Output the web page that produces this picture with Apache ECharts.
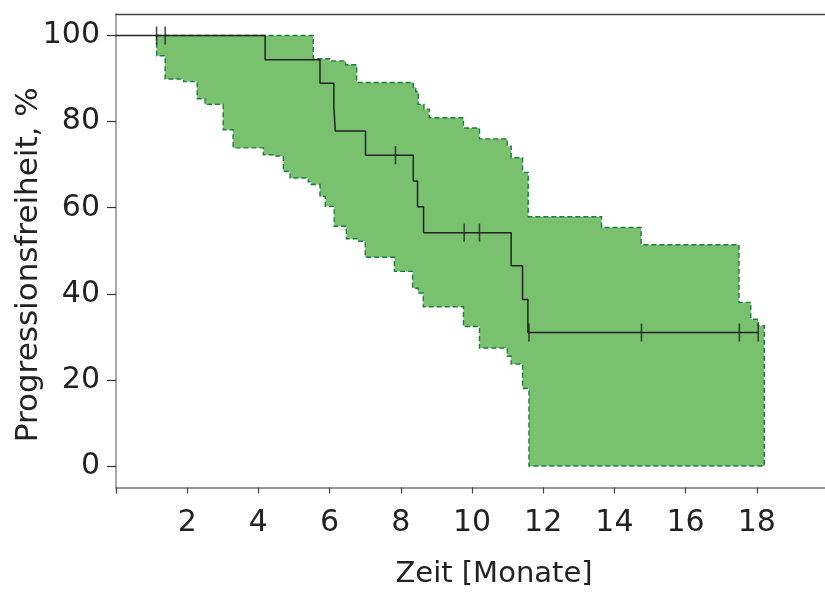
<!DOCTYPE html>
<html>
<head>
<meta charset="utf-8">
<style>
  html, body { margin: 0; padding: 0; background: #fff; }
  #chart { width: 825px; height: 595px; }
</style>
<script src="https://cdn.jsdelivr.net/npm/echarts@6/dist/echarts.min.js"></script>
</head>
<body>
<div id="chart"></div>
<script>
// Kaplan-Meier estimate: event times (months) and survival (%) after each step
const kmTimes = [0, 4.19, 5.73, 6.12, 6.16, 7.01, 8.35, 8.47, 8.64, 11.10, 11.42, 11.57];
const kmSurvival = [100, 94.4, 88.9, 83.3, 77.8, 72.2, 66.2, 60.2, 54.2, 46.5, 38.7, 31.0];
const kmEnd = 18.04;

// Censored observations (months)
const censorTimes = [1.14, 1.38, 7.85, 9.78, 10.21, 11.60, 14.76, 17.51, 18.04];

// Confidence band: upper and lower limits as step functions
const upperTimes = [1.14, 5.54, 6.00, 6.45, 6.76, 8.35, 8.42, 8.49, 8.65, 8.80, 9.76, 10.21, 10.99, 11.10, 11.42, 11.58, 13.64, 14.75, 17.50, 17.83, 18.04];
const upperVals  = [100, 94.6, 94.1, 93.2, 89.1, 88.0, 87.0, 84.0, 82.9, 80.9, 78.5, 76.0, 74.3, 71.6, 68.2, 57.9, 55.4, 51.4, 38.0, 34.1, 32.6];
const lowerTimes = [1.14, 1.38, 1.90, 2.28, 2.50, 3.01, 3.29, 4.14, 4.45, 4.70, 4.89, 5.40, 5.48, 5.73, 5.88, 6.13, 6.47, 6.80, 7.00, 7.82, 8.33, 8.49, 8.63, 9.76, 10.21, 10.99, 11.10, 11.42, 11.60];
const lowerVals  = [95.3, 89.9, 89.3, 85.3, 84.0, 78.1, 73.9, 72.3, 72.0, 68.4, 66.9, 66.0, 65.4, 62.6, 60.3, 55.7, 52.8, 52.2, 48.5, 45.2, 41.3, 40.2, 37.0, 32.4, 27.4, 25.5, 23.7, 18.0, 0];
const bandEnd = 18.21;

// Axis ticks
const xTickValues = [2, 4, 6, 8, 10, 12, 14, 16, 18];
const yTickValues = [0, 20, 40, 60, 80, 100];

const FONT = 'DejaVu Sans';
const TEXT = '#222';

// Survival value at time t (right-continuous step)
function survivalAt(t) {
  let s = kmSurvival[0];
  for (let i = 0; i < kmTimes.length; i++) {
    if (kmTimes[i] <= t) s = kmSurvival[i];
  }
  return s;
}

const kmData = kmTimes.map((t, i) => [t, kmSurvival[i]]);
kmData.push([kmEnd, kmSurvival[kmSurvival.length - 1]]);

const censorData = censorTimes.map(t => [t, survivalAt(t)]);

// Outline of the confidence band as one closed polygon in data space
function bandOutline() {
  const pts = [];
  for (let i = 0; i < upperTimes.length; i++) {
    const tNext = i + 1 < upperTimes.length ? upperTimes[i + 1] : bandEnd;
    pts.push([upperTimes[i], upperVals[i]]);
    pts.push([tNext, upperVals[i]]);
  }
  for (let i = lowerTimes.length - 1; i >= 0; i--) {
    const tNext = i + 1 < lowerTimes.length ? lowerTimes[i + 1] : bandEnd;
    pts.push([tNext, lowerVals[i]]);
    pts.push([lowerTimes[i], lowerVals[i]]);
  }
  return pts;
}
const bandPts = bandOutline();

const chart = echarts.init(document.getElementById('chart'), null, { renderer: 'canvas' });

const option = {
  backgroundColor: '#fff',
  animation: false,
  grid: { left: 116, right: -3, top: 14, bottom: 107.5, outerBoundsMode: 'none' },
  xAxis: [{
    type: 'value',
    min: 0, max: 20, interval: 2,
    name: 'Zeit [Monate]',
    nameLocation: 'middle',
    nameGap: 72,
    nameMoveOverlap: false,
    nameTextStyle: { fontFamily: FONT, fontSize: 29, color: TEXT, padding: [0, 0, 0, 44] },
    axisLine: { show: true, onZero: false, lineStyle: { color: '#777', width: 1.5 } },
    axisTick: { show: true, length: 6, lineStyle: { color: '#444', width: 1.2 } },
    axisLabel: {
      customValues: xTickValues,
      margin: 21,
      fontFamily: FONT, fontSize: 30, color: TEXT
    },
    splitLine: { show: false }
  }, {
    type: 'value',
    position: 'top',
    min: 0, max: 20,
    axisLine: { show: true, onZero: false, lineStyle: { color: '#444', width: 1.3 } },
    axisTick: { show: false },
    axisLabel: { show: false },
    splitLine: { show: false }
  }],
  yAxis: {
    type: 'value',
    min: -5, max: 105,
    name: 'Progressionsfreiheit, %',
    nameLocation: 'middle',
    nameGap: 72,
    nameMoveOverlap: false,
    nameRotate: 90,
    nameTextStyle: { fontFamily: FONT, fontSize: 31, color: TEXT, padding: [0, 28, 0, 0] },
    axisLine: { show: true, onZero: false, lineStyle: { color: '#888', width: 1.5 } },
    axisTick: { show: true, customValues: yTickValues, length: 9, lineStyle: { color: '#333', width: 1.2 } },
    axisLabel: {
      customValues: yTickValues,
      margin: 16,
      fontFamily: FONT, fontSize: 30, color: TEXT
    },
    splitLine: { show: false }
  },
  series: [
    {
      type: 'custom',
      name: 'band',
      clip: true,
      z: 1,
      data: [[0, 0]],
      renderItem: function (params, api) {
        const points = bandPts.map(p => api.coord(p));
        return {
          type: 'polygon',
          shape: { points: points },
          style: {
            fill: '#79c06f',
            stroke: '#1d7a42',
            lineWidth: 1.4,
            lineDash: [5, 3]
          }
        };
      }
    },
    {
      type: 'line',
      name: 'km',
      step: 'end',
      data: kmData,
      symbol: 'none',
      z: 3,
      lineStyle: { color: '#222', width: 1.5 }
    },
    {
      type: 'scatter',
      name: 'censored',
      data: censorData,
      symbol: 'rect',
      symbolSize: [1.6, 18],
      z: 4,
      itemStyle: { color: '#222' }
    }
  ]
};

chart.setOption(option);
</script>
</body>
</html>
